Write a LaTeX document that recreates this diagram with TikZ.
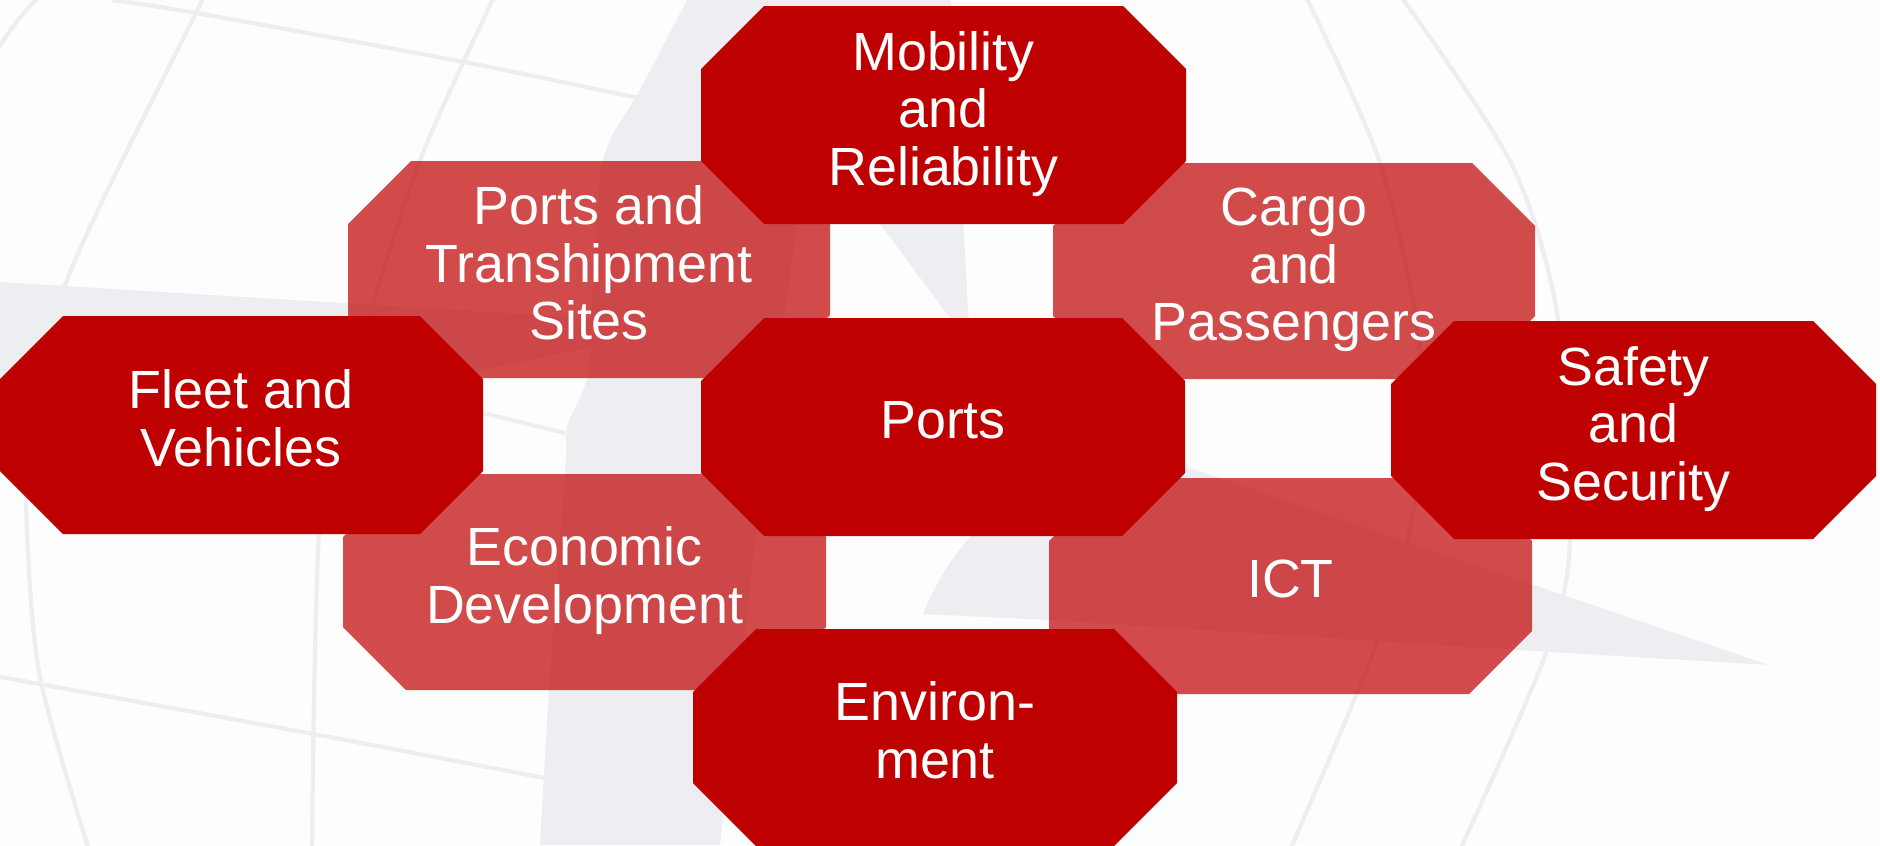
\documentclass[tikz,border=0pt]{standalone}
\usepackage{fontspec}
\setmainfont{Liberation Sans}
\definecolor{darkred}{HTML}{BF0000}
\definecolor{bgw}{HTML}{FDFDFD}
\definecolor{bgg}{HTML}{EEEEF2}
\definecolor{bgl}{HTML}{EEEEF0}
\newcommand\octshape[5]{%
  \fill[#5] ({#1+63},#2) -- ({#3-63},#2) -- (#3,{#2+63}) -- (#3,{#4-63})
    -- ({#3-63},#4) -- ({#1+63},#4) -- (#1,{#4-63}) -- (#1,{#2+63}) -- cycle;}
\tikzset{
  darkoct/.style={fill=darkred},
  lightoct/.style={fill=darkred, fill opacity=0.7},
  lbl/.style={text=white, align=center, inner sep=0pt,
    font=\fontsize{15.3}{16.4}\selectfont},
  globeline/.style={draw=bgl, line width=1.2pt},
  greyshape/.style={fill=bgg}
}
\begin{document}
\begin{tikzpicture}[x=0.01cm, y=-0.01cm]
\useasboundingbox (0,0) rectangle (1880,845);
\clip (0,0) rectangle (1880,845);
\fill[bgw] (0,0) rectangle (1880,845);
% background globe
\fill[greyshape] (0,282) -- (700,325) -- (480,370) -- (0,420) -- cycle;
\fill[greyshape] plot[smooth] coordinates {(687,0) (640,90) (603,160) (592,300) (587,378) (567,427) (565,473) (549,690) (540,845)}
  -- (720,845) -- (760,500) -- (800,200) -- (790,0) -- cycle;
\fill[greyshape] (714,0) -- (951,0) -- (970,345) -- cycle;
\fill[greyshape] (990,400) -- (1769,665) -- (1518,650) -- (1050,620) -- (923,614)
  .. controls (935,585) and (950,560) .. (970,537) -- (975,420) -- cycle;
\draw[globeline] plot[smooth] coordinates {(40,-5) (18,20) (-3,50)};
\draw[globeline] plot[smooth] coordinates {(205,-5) (196,13) (67,280) (30,450) (27,530) (40,677) (89,850)};
\draw[globeline] plot[smooth] coordinates {(495,-5) (420,160) (365,330) (330,450) (319,530) (314,700) (312,850)};
\draw[globeline] plot[smooth] coordinates {(112,0) (196,13) (464,62) (634,97) (720,112)};
\draw[globeline] plot[smooth] coordinates {(-5,676) (308,733) (540,777) (700,806)};
\draw[globeline] (430,400) -- (483,413) -- (565,433);
\draw[globeline] plot[smooth] coordinates {(1305,-5) (1380,163) (1420,350) (1415,500) (1378,640) (1290,850)};
\draw[globeline] plot[smooth] coordinates {(1400,-5) (1513,167) (1560,330) (1570,540) (1546,653) (1460,850)};
% light octagons
\octshape{348}{161}{830}{378}{lightoct}
\octshape{1053}{163}{1535}{379}{lightoct}
\octshape{343}{474}{826}{690}{lightoct}
\octshape{1049}{478}{1532}{694}{lightoct}
% dark octagons
\octshape{701}{6}{1186}{224}{darkoct}
\octshape{0}{316}{483}{534}{darkoct}
\octshape{701}{318}{1185}{536}{darkoct}
\octshape{1391}{321}{1876}{539}{darkoct}
\octshape{693}{629}{1177}{846}{darkoct}
% labels
\node[lbl] (mob) at (943.5,114) {Mobility\\and\\Reliability};
\node[lbl] (pt) at (589,263) {Ports and\\Transhipment\\Sites};
\node[lbl] (cp) at (1294,270) {Cargo\\and\\Passengers};
\node[lbl] (fleet) at (241,418.5) {Fleet and\\Vehicles};
\node[lbl] (ports) at (943,420) {Ports};
\node[lbl] (safety) at (1633.5,429) {Safety\\and\\Security};
\node[lbl] (econ) at (584.5,580.5) {Economic\\Development};
\node[lbl] (ict) at (1290.5,579) {ICT};
\node[lbl] (env) at (935,730.5) {Environ-\\ment};
\end{tikzpicture}
\end{document}
